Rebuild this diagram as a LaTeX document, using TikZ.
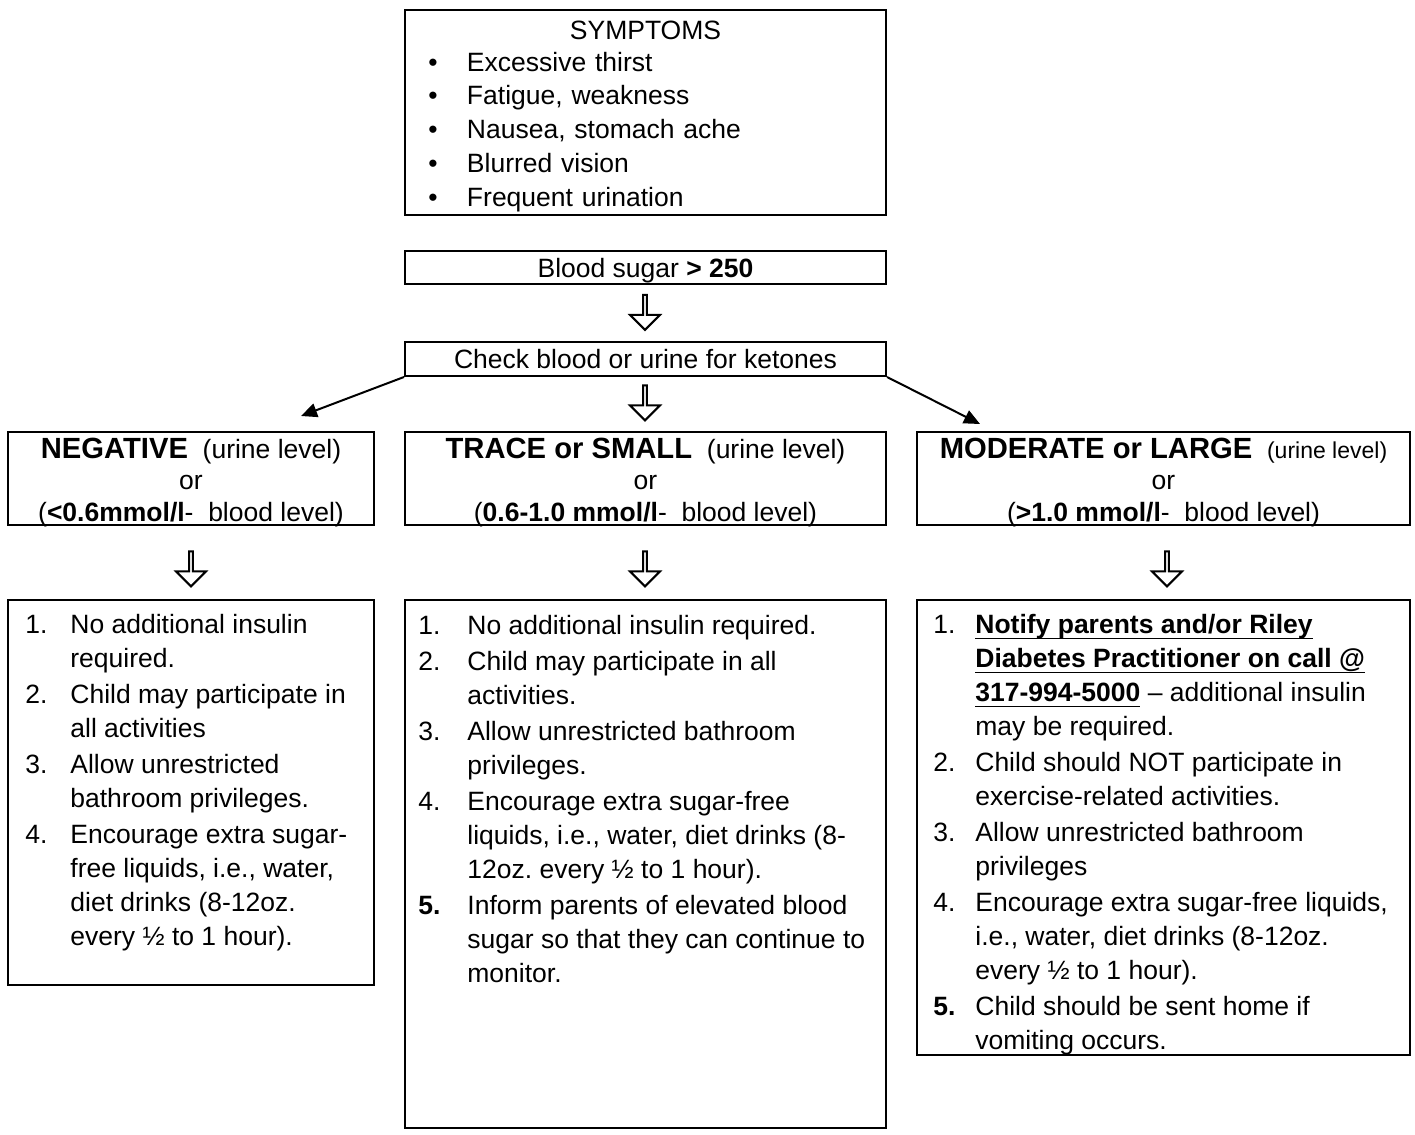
\documentclass[tikz,border=0pt]{standalone}
\usepackage{fontspec}
\setmainfont{Liberation Sans}
\usetikzlibrary{shapes.arrows,arrows.meta}

\newcommand\undl[1]{\underline{\raisebox{0pt}[\height][1.2pt]{#1}}}
\newcommand\symitem[1]{\makebox[31pt][l]{\hspace{11.7pt}\textbullet}#1}
\newcommand\lvl[1]{{\fontsize{14.6}{15.75}\selectfont\textbf{#1}}}

\begin{document}
\begin{tikzpicture}[x=0.5pt, y=-0.5pt,
    box/.style={draw, line width=1pt, inner sep=0pt},
    level/.style={box, minimum height=46.5pt, align=center,
        text height=44.5pt, text depth=2pt,
        font=\fontsize{13.25}{15.75}\selectfont},
    actbox/.style={box},
    acttext/.style={anchor=base west, inner sep=0pt,
        font=\fontsize{13.25}{17}\selectfont},
    hollow/.style={single arrow, draw, line width=1pt,
        shape border rotate=270, minimum height=17.5pt, minimum width=15pt,
        single arrow head extend=3.75pt, inner sep=0pt},
    pointer/.style={line width=1pt, -{Triangle[length=8pt,width=7pt]}},
    every node/.style={font=\fontsize{13.25}{17}\selectfont}]
    \useasboundingbox (0,0) rectangle (1415,1135);

    \node[box, minimum width=240.5pt, minimum height=102.5pt,
        text width=240.5pt, align=left,
        font=\fontsize{13.25}{16.9}\selectfont] (symp) at (645.5,112.5)
        {\makebox[\linewidth]{\rule{0pt}{13.3pt}SYMPTOMS}\\[-1.25pt]
         \symitem{Excessive thirst}\\
         \symitem{Fatigue, weakness}\\
         \symitem{Nausea, stomach ache}\\
         \symitem{Blurred vision}\\
         \symitem{Frequent urination}};

    \node[box, minimum width=240.5pt, minimum height=16.5pt, text depth=0pt] (bs)
        at (645.5,267.5) {Blood sugar \textbf{> 250}};
    \node[hollow] (a1) at (645,311.5) {};
    \node[box, minimum width=240.5pt, minimum height=17pt, text depth=0pt] (chk)
        at (645.5,359) {Check blood or urine for ketones};
    \node[hollow] (a2) at (645,402) {};

    % ketone levels
    \node[level, minimum width=183pt] (neg) at (191,478.5)
        {\lvl{NEGATIVE}\ \ (urine level)\\ or\\
         (\textbf{<0.6mmol/l}-\ \ blood level)};
    \node[level, minimum width=240.5pt] (trc) at (645.5,478.5)
        {\lvl{TRACE or SMALL}\ \ (urine level)\\ or\\
         (\textbf{0.6-1.0 mmol/l}-\ \ blood level)};
    \node[level, minimum width=246.5pt] (mod) at (1163.5,478.5)
        {\lvl{MODERATE or LARGE}\ \ {\fontsize{11.5}{13}\selectfont(urine level)}\\ or\\
         (\textbf{>1.0 mmol/l}-\ \ blood level)};

    \coordinate (negtip) at (301,416);
    \coordinate (modtip) at (980,424);
    \draw[pointer] (chk.south west) -- (negtip);
    \draw[pointer] (chk.south east) -- (modtip);

    \node[hollow] (a3) at (191,568) {};
    \node[hollow] (a4) at (645,568) {};
    \node[hollow] (a5) at (1167,568) {};

    % what to do
    \node[actbox, minimum width=183pt, minimum height=192.5pt] (negact) at (191,792.5) {};
    \node[acttext] (negtxt) at (25,633)
        {\begin{tabular}[t]{@{}p{22.5pt}@{}l@{}}
         1. & No additional insulin\\ & required.\\[1pt]
         2. & Child may participate in\\ & all activities\\[1pt]
         3. & Allow unrestricted\\ & bathroom privileges.\\[1pt]
         4. & Encourage extra sugar-\\ & free liquids, i.e., water,\\
            & diet drinks (8-12oz.\\ & every ½ to 1 hour).
         \end{tabular}};

    \node[actbox, minimum width=240.5pt, minimum height=264pt] (trcact) at (645.5,864) {};
    \node[acttext] (trctxt) at (418,634)
        {\begin{tabular}[t]{@{}p{24.5pt}@{}l@{}}
         1. & No additional insulin required.\\[1pt]
         2. & Child may participate in all\\ & activities.\\[1pt]
         3. & Allow unrestricted bathroom\\ & privileges.\\[1pt]
         4. & Encourage extra sugar-free\\ & liquids, i.e., water, diet drinks (8-\\
            & 12oz.\ every ½ to 1 hour).\\[1pt]
         \textbf{5.} & Inform parents of elevated blood\\
            & sugar so that they can continue to\\ & monitor.
         \end{tabular}};

    \node[actbox, minimum width=246.5pt, minimum height=227.5pt] (modact) at (1163.5,827.5) {};
    \node[acttext] (modtxt) at (933,633)
        {\begin{tabular}[t]{@{}p{21pt}@{}l@{}}
         1. & \undl{\textbf{Notify parents and/or Riley}}\\
            & \undl{\textbf{Diabetes Practitioner on call @}}\\
            & \undl{\textbf{317-994-5000}} – additional insulin\\
            & may be required.\\[1pt]
         2. & Child should NOT participate in\\ & exercise-related activities.\\[1pt]
         3. & Allow unrestricted bathroom\\ & privileges\\[1pt]
         4. & Encourage extra sugar-free liquids,\\ & i.e., water, diet drinks (8-12oz.\\
            & every ½ to 1 hour).\\[1pt]
         \textbf{5.} & Child should be sent home if\\ & vomiting occurs.
         \end{tabular}};
\end{tikzpicture}
\end{document}
